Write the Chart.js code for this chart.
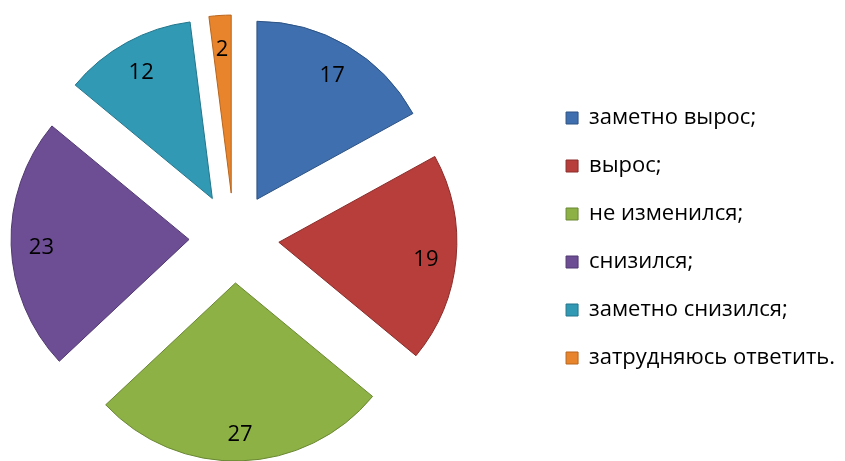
<!DOCTYPE html>
<html>
<head>
<meta charset="utf-8">
<script src="https://cdn.jsdelivr.net/npm/chart.js@4/dist/chart.umd.min.js"></script>
<style>
    html, body { margin: 0; padding: 0; background: #ffffff; }
    #wrap { width: 845px; height: 461px; }
</style>
</head>
<body>
<div id="wrap"><canvas id="pieChart"></canvas></div>
<script>
const categories = ['заметно вырос;', 'вырос;', 'не изменился;', 'снизился;', 'заметно снизился;', 'затрудняюсь ответить.'];
const values = [17, 19, 27, 23, 12, 2];
const fillColors = ['#3F6FAE', '#B73E3B', '#8DB145', '#6D4E94', '#3299B5', '#E8852C'];
const edgeColors = ['#2C5283', '#8A2C2A', '#6A8733', '#503870', '#22758B', '#B9641C'];

// pull every slice away from the centre along its own bisector
const explodePlugin = {
    id: 'explode',
    afterLayout(chart, args, opts) {
        // keep a gap between the pie and the legend
        chart.chartArea.right -= opts.gap;
        chart.chartArea.width -= opts.gap;
    },
    afterDatasetUpdate(chart, args, opts) {
        const meta = chart.getDatasetMeta(args.index);
        meta.data.forEach((arc) => {
            const mid = (arc.startAngle + arc.endAngle) / 2;
            arc.x += Math.cos(mid) * opts.distance;
            arc.y += Math.sin(mid) * opts.distance;
        });
    }
};

// value labels inside the slices
const sliceLabels = {
    id: 'sliceLabels',
    afterDatasetsDraw(chart, args, opts) {
        const ctx = chart.ctx;
        const meta = chart.getDatasetMeta(0);
        ctx.save();
        ctx.font = opts.font;
        ctx.fillStyle = opts.color;
        ctx.textAlign = 'center';
        ctx.textBaseline = 'middle';
        meta.data.forEach((arc, i) => {
            const mid = (arc.startAngle + arc.endAngle) / 2;
            const r = arc.outerRadius * opts.position;
            ctx.fillText(String(values[i]), arc.x + Math.cos(mid) * r, arc.y + Math.sin(mid) * r + opts.dy);
        });
        ctx.restore();
    }
};

const ctx = document.getElementById('pieChart').getContext('2d');
new Chart(ctx, {
    type: 'pie',
    data: {
        labels: categories,
        datasets: [{
            data: values,
            backgroundColor: fillColors,
            borderColor: edgeColors,
            borderWidth: 1,
            clip: false
        }]
    },
    options: {
        responsive: true,
        maintainAspectRatio: false,
        animation: false,
        radius: 178,
        layout: {
            padding: { top: 15 }
        },
        plugins: {
            explode: { distance: 45, gap: 72 },
            sliceLabels: { font: '22px "Open Sans"', color: '#000000', position: 0.83, dy: 4 },
            tooltip: { enabled: false },
            legend: {
                position: 'right',
                labels: {
                    color: '#000000',
                    boxWidth: 12,
                    boxHeight: 12,
                    padding: 26,
                    font: { family: '"Open Sans"', size: 22 },
                    generateLabels: (chart) => categories.map((text, i) => ({
                        text: text,
                        fillStyle: fillColors[i],
                        strokeStyle: edgeColors[i],
                        lineWidth: 1,
                        fontColor: '#000000',
                        index: i
                    }))
                }
            }
        }
    },
    plugins: [explodePlugin, sliceLabels]
});
</script>
</body>
</html>
